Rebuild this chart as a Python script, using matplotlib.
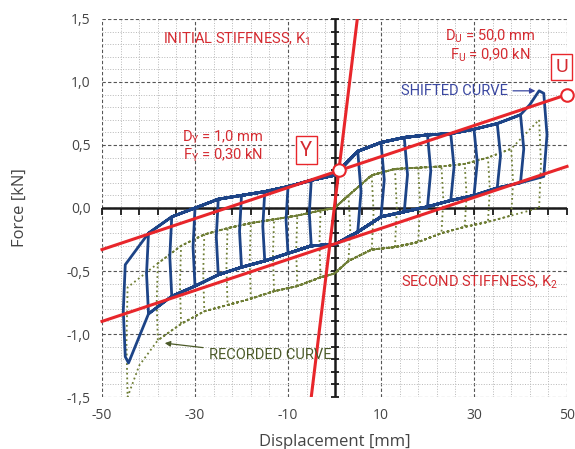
import numpy as np
import matplotlib.pyplot as plt
from matplotlib.ticker import FuncFormatter

# ---- data ----
# shifted curve (blue): reversal amplitudes and branch points
blue_right = [5, 10, 15, 20, 25, 30, 35, 40, 45]
blue_left = [-5, -10, -15, -20, -25, -30, -35, -40, -45]
blue_up_d = [-45, -40, -35, -30, -25, -20, -15, -10, -5, 0, 5, 10, 15, 20, 25, 30, 35, 40, 42, 44, 45]
blue_up_f = [-0.45, -0.20, -0.07, 0.00, 0.07, 0.10, 0.13, 0.17, 0.22, 0.26, 0.45, 0.52,
             0.56, 0.58, 0.59, 0.625, 0.67, 0.74, 0.82, 0.93, 0.91]
blue_lo_d = [-45, -44.3, -40, -35, -30, -25, -20, -15, -10, -5, 0, 5, 10, 15, 20, 25, 30, 35, 40, 45]
blue_lo_f = [-1.18, -1.23, -0.84, -0.70, -0.62, -0.53, -0.47, -0.42, -0.36, -0.30, -0.29, -0.19,
             -0.07, -0.03, 0.01, 0.06, 0.10, 0.16, 0.20, 0.25]
blue_bow = 0.7   # unloading legs bulge outwards by about this much (mm)

# recorded curve (olive, dotted)
rec_right = [3, 8, 13, 18, 23, 28, 33, 38, 44]
rec_left = [-3, -8, -13, -18, -23, -28, -33, -38, -44.5]
rec_up_d = [-44.5, -38, -33, -28, -23, -18, -13, -8, -3, 0, 3, 8, 13, 18, 23, 28, 33, 38, 44]
rec_up_f = [-0.63, -0.44, -0.30, -0.21, -0.16, -0.12, -0.09, -0.06, -0.02, 0.00, 0.10, 0.26,
            0.31, 0.32, 0.33, 0.35, 0.40, 0.47, 0.70]
rec_lo_d = [-44.5, -42, -38, -33, -28, -23, -18, -13, -8, -3, 0, 3, 8, 13, 18, 23, 28, 33, 38, 44]
rec_lo_f = [-1.50, -1.25, -1.05, -0.92, -0.82, -0.77, -0.72, -0.66, -0.62, -0.55, -0.52, -0.42,
            -0.33, -0.31, -0.27, -0.20, -0.15, -0.11, -0.06, 0.00]
rec_bow = 0.4

# bilinear idealisation (red)
k1_d = [-5.0, 4.9]
k1_f = [-1.5, 1.5]
k2_up_d = [-50, 50]
k2_up_f = [-0.33, 0.90]
k2_lo_d = [-50, 50]
k2_lo_f = [-0.90, 0.33]
yield_pt = (1.0, 0.30)
ult_pt = (50.0, 0.90)

x_labels = [-50, -30, -10, 10, 30, 50]
y_labels = [-1.5, -1.0, -0.5, 0.0, 0.5, 1.0, 1.5]

RED = '#e8262b'
TXT_RED = '#d42a30'
BLUE = '#1d4487'
OLIVE = '#6f7e36'
GREY = '#444444'


def hysteresis(right, left, up_d, up_f, lo_d, lo_f, bow):
    """Chain the cycles: up the upper branch, down at +A, back along lower, up at -A."""
    up = dict(zip(up_d, up_f))
    lo = dict(zip(lo_d, lo_f))
    xs, ys = [0], [up[0]]
    prev = 0
    for ar, al in zip(right, left):
        for d, f in zip(up_d, up_f):
            if prev < d <= ar:
                xs.append(d); ys.append(f)
        # slightly bowed unloading leg
        xs.append(ar + bow); ys.append((up[ar] + lo[ar]) / 2)
        for d, f in reversed(list(zip(lo_d, lo_f))):
            if al <= d <= ar:
                xs.append(d); ys.append(f)
        xs.append(al - bow * 0.6); ys.append((up[al] + lo[al]) / 2)
        xs.append(al); ys.append(up[al])
        prev = al
    for d, f in zip(up_d, up_f):
        if prev < d <= 0:
            xs.append(d); ys.append(f)
    return xs, ys


plt.rcParams['font.family'] = ['Open Sans', 'DejaVu Sans']
fig = plt.figure(figsize=(5.75, 4.49), dpi=100)
ax = fig.add_axes([0.1774, 0.1158, 0.8087, 0.8419])

ax.set_xlim(-50, 50)
ax.set_ylim(-1.5, 1.5)
ax.set_xticks(x_labels)
ax.set_yticks(y_labels)
ax.set_xticks(np.arange(-50, 51, 4), minor=True)
ax.set_yticks(np.arange(-1.5, 1.51, 0.1), minor=True)
ax.xaxis.set_major_formatter(FuncFormatter(lambda v, p: f'{v:.0f}'))
ax.yaxis.set_major_formatter(FuncFormatter(lambda v, p: f'{v:.1f}'.replace('.', ',')))
ax.tick_params(which='both', length=0, labelsize=10, labelcolor=GREY, pad=8)
ax.grid(which='minor', color='#b8b8b8', ls=':', lw=0.7)
ax.grid(which='major', color='#555555', ls=(0, (3, 2)), lw=0.8)
ax.set_axisbelow(True)
for s in ax.spines.values():
    s.set_visible(False)

ax.set_xlabel('Displacement [mm]', fontsize=12, color=GREY, labelpad=8)
ax.set_ylabel('Force [kN]', fontsize=12, color=GREY, labelpad=28)

# central axes with tick marks
ax.axhline(0, color='#1a1a1a', lw=1.8, zorder=2)
ax.axvline(0, color='#1a1a1a', lw=1.8, zorder=2)
xt = np.arange(-50, 51, 4)
ax.plot(xt, np.zeros_like(xt), ls='none', marker=3, ms=5, mew=1.3, color='#1a1a1a', zorder=2,
        clip_on=False)
yt = np.arange(-1.5, 1.51, 0.1)
ax.plot(np.zeros_like(yt), yt, ls='none', marker='_', ms=6, mew=1.3, color='#1a1a1a', zorder=2,
        clip_on=False)

# curves
rx, ry = hysteresis(rec_right, rec_left, rec_up_d, rec_up_f, rec_lo_d, rec_lo_f, rec_bow)
ax.plot(rx, ry, color=OLIVE, ls=':', lw=1.3, zorder=3)
bx, by = hysteresis(blue_right, blue_left, blue_up_d, blue_up_f, blue_lo_d, blue_lo_f, blue_bow)
ax.plot(bx, by, color=BLUE, lw=2.0, zorder=4, solid_joinstyle='round')

ax.plot(k1_d, k1_f, color=RED, lw=2.2, zorder=5)
ax.plot(k2_up_d, k2_up_f, color=RED, lw=2.2, zorder=5, clip_on=False)
ax.plot(k2_lo_d, k2_lo_f, color=RED, lw=2.2, zorder=5, clip_on=False)
ax.plot(*yield_pt, 'o', ms=9, mfc='white', mec=RED, mew=1.5, zorder=6, clip_on=False)
ax.plot(*ult_pt, 'o', ms=9, mfc='white', mec=RED, mew=1.5, zorder=6, clip_on=False)

# annotations
ann = dict(color=TXT_RED, fontsize=10.5, family=['Roboto', 'DejaVu Sans'], ha='center', va='center', zorder=7)
ax.text(-21, 1.34, r'INITIAL STIFFNESS, K$_\mathregular{1}$', **ann)
ax.text(31.3, -0.59, r'SECOND STIFFNESS, K$_\mathregular{2}$', **ann)
ax.text(-24, 0.56, r'D$_\mathregular{Y}$ = 1,0 mm', **ann)
ax.text(-24, 0.42, r'F$_\mathregular{Y}$ = 0,30 kN', **ann)
ax.text(33.4, 1.365, r'D$_\mathregular{U}$ = 50,0 mm', **ann)
ax.text(33.4, 1.21, r'F$_\mathregular{U}$ = 0,90 kN', **ann)

box = dict(boxstyle='square,pad=0.22', fc='white', ec=RED, lw=1.0)
ax.text(-6.1, 0.46, 'Y', color=TXT_RED, fontsize=14.5, family=['Roboto', 'DejaVu Sans'],
        ha='center', va='center', bbox=box, zorder=7)
ax.text(48.9, 1.12, 'U', color=TXT_RED, fontsize=14, family=['Roboto', 'DejaVu Sans'],
        ha='center', va='center', bbox=box, zorder=7, clip_on=False)

ax.annotate('SHIFTED CURVE', xy=(43.8, 0.93), xytext=(25.7, 0.93),
            color='#3a47a0', fontsize=10.5, family=['Roboto', 'DejaVu Sans'], ha='center', va='center',
            arrowprops=dict(arrowstyle='-|>', color='#3a47a0', lw=0.9, mutation_scale=8,
                            shrinkA=2, shrinkB=2), zorder=7)
ax.annotate('RECORDED CURVE', xy=(-37.1, -1.07), xytext=(-13.9, -1.17),
            color='#4b5a28', fontsize=10.5, family=['Roboto', 'DejaVu Sans'], ha='center', va='center',
            arrowprops=dict(arrowstyle='-|>', color='#4b5a28', lw=0.9, mutation_scale=8,
                            shrinkA=2, shrinkB=2), zorder=7)

fig.savefig('out.png', dpi=100)
